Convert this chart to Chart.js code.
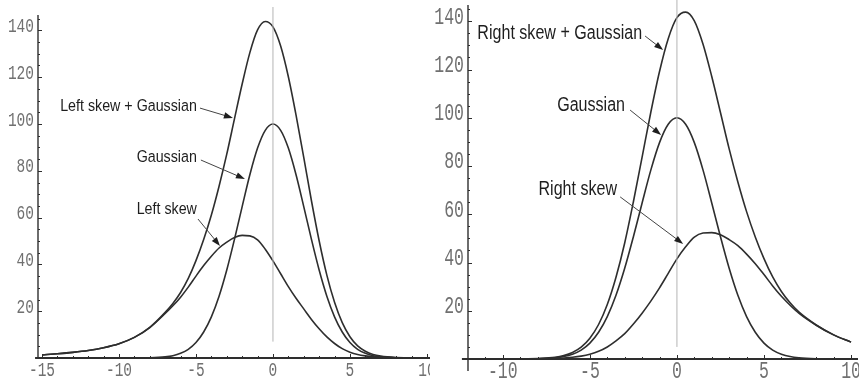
<!DOCTYPE html>
<html>
<head>
<meta charset="utf-8">
<script src="https://cdn.jsdelivr.net/npm/chart.js@4.4.1/dist/chart.umd.min.js"></script>
<style>
  body { margin: 0; width: 859px; height: 384px; overflow: hidden; background: #fff; position: relative; }
  canvas { position: absolute; top: 0; }
  #left { left: 0; z-index: 1; }
  #right { left: 430px; z-index: 2; }
</style>
</head>
<body>
<canvas id="left" width="460" height="384"></canvas>
<canvas id="right" width="460" height="384"></canvas>
<script>
// left panel: long tail to the left
const xsLeft = [-15, -14, -13, -12, -11, -10, -9, -8,
  -7, -6.5, -6, -5.5, -5, -4.5, -4, -3.5, -3, -2.5, -2, -1.5, -1, -0.5, 0,
  0.5, 1, 1.5, 2, 2.5, 3, 3.5, 4, 4.5, 5, 5.5, 6, 6.5, 7, 8, 9, 10]
const gaussLeft = [0, 0, 0, 0, 0, 0, 0, 0.1,
  0.5, 1.0, 2.0, 3.7, 6.6, 11.1, 17.6, 26.4, 37.6, 50.7, 64.7, 78.3, 89.7, 97.3, 100,
  97.3, 89.7, 78.3, 64.7, 50.7, 37.6, 26.4, 17.6, 11.1, 6.6, 3.7, 2.0, 1.0, 0.5, 0.1, 0, 0]
const skewLeft = [1.3, 1.8, 2.4, 3.2, 4.4, 6.1, 8.8, 13,
  19, 22.3, 26, 30.3, 35, 39.5, 43.5, 47, 49.5, 51.5, 52.4, 52.2, 50.5, 46.5, 41.5,
  36, 30.5, 25.5, 21, 16.5, 12.5, 9, 6.2, 4, 2.5, 1.5, 0.9, 0.5, 0.3, 0.1, 0, 0]
const sumLeft = [1.3, 1.8, 2.4, 3.2, 4.4, 6.1, 8.8, 13.1,
  19.5, 23.3, 28, 34, 41.6, 50.6, 61.1, 73.4, 87.1, 102.2, 117.1, 130.5, 140.2, 143.8, 141.5,
  133.3, 120.2, 103.8, 85.7, 67.2, 50.1, 35.4, 23.8, 15.1, 9.1, 5.2, 2.9, 1.5, 0.8, 0.2, 0, 0]

// right panel: long tail to the right
const xsRight = [-12, -11, -10, -9, -8,
  -7, -6.5, -6, -5.5, -5, -4.5, -4, -3.5, -3, -2.5, -2, -1.5, -1, -0.5, 0,
  0.5, 1, 1.5, 2, 2.5, 3, 3.5, 4, 4.5, 5, 5.5, 6, 6.5, 7, 8, 9, 10]
const gaussRight = [0, 0, 0, 0, 0.1,
  0.5, 1.0, 2.0, 3.7, 6.6, 11.1, 17.6, 26.4, 37.6, 50.7, 64.7, 78.3, 89.7, 97.3, 100,
  97.3, 89.7, 78.3, 64.7, 50.7, 37.6, 26.4, 17.6, 11.1, 6.6, 3.7, 2.0, 1.0, 0.5, 0.1, 0, 0]
const skewRight = [0, 0, 0, 0, 0.1,
  0.2, 0.4, 0.7, 1.2, 2, 3.2, 5, 7.5, 10.5, 14.5, 19, 24, 29.5, 35.5, 41.5,
  46.5, 50.5, 52.2, 52.4, 51.5, 49.5, 47, 43.5, 39.5, 35, 30.3, 26, 22.3, 19, 14, 10, 7]
const sumRight = [0, 0, 0, 0, 0.2,
  0.7, 1.4, 2.7, 4.9, 8.6, 14.3, 22.6, 33.9, 48.1, 65.2, 83.7, 102.3, 119.2, 132.8, 141.5,
  143.8, 140.2, 130.5, 117.1, 102.2, 87.1, 73.4, 61.1, 50.6, 41.6, 34, 28, 23.3, 19.5, 14.1, 10, 7]

// vertical reference line at x = 0 (y from, y to)
const zeroLineLeft = [7, 150]
const zeroLineRight = [5, 149]

const yTicks = [20, 40, 60, 80, 100, 120, 140]
const xTicksLeft = [-15, -10, -5, 0, 5, 10]
const xTicksRight = [-10, -5, 0, 5, 10]

const namesLeft = ['Left skew + Gaussian', 'Gaussian', 'Left skew']
const namesRight = ['Right skew + Gaussian', 'Gaussian', 'Right skew']

const INK = '#2e2e2e'

function pts(xs, ys) {
  return xs.map((x, i) => ({ x: x, y: ys[i] }))
}

function curve(data) {
  return {
    data: data, borderColor: INK, borderWidth: 1.6, pointRadius: 0,
    cubicInterpolationMode: 'monotone', clip: false
  }
}

function monoText(ctx, txt, x, y, size, align) {
  ctx.save()
  ctx.translate(x, y)
  ctx.scale(1, 1.45)
  ctx.font = size + 'px "Liberation Mono"'
  ctx.textAlign = align
  ctx.textBaseline = 'middle'
  ctx.fillStyle = '#707070'
  ctx.fillText(txt, 0, 0)
  ctx.restore()
}

// is a real narrow face installed? compare against the plain fallback
function hasNarrow(ctx) {
  ctx.font = '18px "Liberation Sans Narrow", monospace'
  const a = ctx.measureText('Gaussian skew').width
  ctx.font = '18px monospace'
  const b = ctx.measureText('Gaussian skew').width
  return Math.abs(a - b) > 0.5
}

function label(ctx, txt, x, y, size) {
  ctx.save()
  ctx.fillStyle = '#1e1e1e'
  ctx.textAlign = 'right'
  ctx.textBaseline = 'middle'
  if (hasNarrow(ctx)) {
    ctx.font = size + 'px "Liberation Sans Narrow"'
    ctx.fillText(txt, x, y)
  } else {
    ctx.translate(x, y)
    ctx.scale(0.82, 1)
    ctx.font = size + 'px "Liberation Sans", Arial, sans-serif'
    ctx.fillText(txt, 0, 0)
  }
  ctx.restore()
}

function arrow(ctx, x1, y1, x2, y2) {
  const a = Math.atan2(y2 - y1, x2 - x1)
  ctx.save()
  ctx.strokeStyle = '#444'
  ctx.lineWidth = 1
  ctx.beginPath()
  ctx.moveTo(x1, y1)
  ctx.lineTo(x2 - 6 * Math.cos(a), y2 - 6 * Math.sin(a))
  ctx.stroke()
  ctx.fillStyle = '#1e1e1e'
  ctx.beginPath()
  ctx.moveTo(x2, y2)
  ctx.lineTo(x2 - 9 * Math.cos(a) + 3.2 * Math.sin(a), y2 - 9 * Math.sin(a) - 3.2 * Math.cos(a))
  ctx.lineTo(x2 - 9 * Math.cos(a) - 3.2 * Math.sin(a), y2 - 9 * Math.sin(a) + 3.2 * Math.cos(a))
  ctx.closePath()
  ctx.fill()
  ctx.restore()
}

// white background, Mathematica-style axes with inward ticks, and the arrow labels
const framePlugin = {
  id: 'frame',
  beforeDraw(chart) {
    const ctx = chart.ctx
    ctx.save()
    ctx.fillStyle = '#fff'
    ctx.fillRect(0, 0, chart.width, chart.height)
    ctx.restore()
  },
  beforeDatasetsDraw(chart) {
    const o = chart.options.plugins.frame
    const ctx = chart.ctx
    const xs = chart.scales.x, ys = chart.scales.y
    const x0 = xs.getPixelForValue(o.yAxisAt), y0 = ys.getPixelForValue(0)
    ctx.save()
    ctx.strokeStyle = INK
    ctx.lineWidth = 2
    ctx.beginPath()
    ctx.moveTo(xs.getPixelForValue(o.xAxisFrom), y0)
    ctx.lineTo(xs.getPixelForValue(o.xAxisTo), y0)
    ctx.stroke()
    ctx.lineWidth = 1.4
    ctx.beginPath()
    ctx.moveTo(x0, ys.getPixelForValue(o.yAxisFrom))
    ctx.lineTo(x0, ys.getPixelForValue(o.yAxisTo))
    ctx.stroke()
    ctx.lineWidth = 1
    ctx.beginPath()
    for (let v = 5; v < o.yAxisTo; v += 5) {
      const py = Math.round(ys.getPixelForValue(v)) + 0.5
      ctx.moveTo(x0, py)
      ctx.lineTo(x0 + (v % 20 === 0 ? 4 : 2), py)
    }
    for (let v = Math.ceil(o.xAxisFrom); v <= o.xAxisTo; v++) {
      if (v === o.yAxisAt) continue
      const px = Math.round(xs.getPixelForValue(v)) + 0.5
      ctx.moveTo(px, y0)
      ctx.lineTo(px, y0 - (v % 5 === 0 ? 4 : 2))
    }
    ctx.stroke()
    ctx.restore()

    yTicks.forEach(v => monoText(ctx, String(v), x0 - 4, ys.getPixelForValue(v) - 4, o.tickSize, 'right'))
    o.xTicks.forEach(v => monoText(ctx, String(v), xs.getPixelForValue(v), y0 + o.tickGap, o.tickSize, 'center'))
  },
  afterDatasetsDraw(chart) {
    const o = chart.options.plugins.frame
    const ctx = chart.ctx
    const xs = chart.scales.x, ys = chart.scales.y
    o.notes.forEach((n, i) => {
      const px = v => xs.getPixelForValue(v), py = v => ys.getPixelForValue(v)
      label(ctx, o.names[i], px(n.text[0]), py(n.text[1]), o.fontSize)
      arrow(ctx, px(n.from[0]), py(n.from[1]), px(n.to[0]), py(n.to[1]))
    })
  }
}

function panel(id, xs, gauss, skew, sum, zero, cfg) {
  new Chart(document.getElementById(id), {
    type: 'line',
    data: {
      datasets: [
        { data: [{ x: 0, y: zero[0] }, { x: 0, y: zero[1] }], borderColor: '#b4b4b4', borderWidth: 1, pointRadius: 0, clip: false },
        curve(pts(xs, gauss)),
        curve(pts(xs, skew)),
        curve(pts(xs, sum))
      ]
    },
    options: {
      responsive: false,
      animation: false,
      layout: { padding: cfg.padding },
      scales: {
        x: { type: 'linear', min: cfg.xMin, max: cfg.xMax, display: false },
        y: { type: 'linear', min: 0, max: cfg.yMax, display: false }
      },
      plugins: {
        legend: { display: false },
        tooltip: { enabled: false },
        frame: cfg.frame
      }
    },
    plugins: [framePlugin]
  })
}

panel('left', xsLeft, gaussLeft, skewLeft, sumLeft, zeroLineLeft, {
  padding: { left: 38, right: 30, top: 7, bottom: 26 },
  xMin: -15.26, xMax: 10.2, yMax: 150,
  frame: {
    yAxisAt: -15.26, yAxisFrom: 0, yAxisTo: 146.6,
    xAxisFrom: -15.45, xAxisTo: 10.2,
    xTicks: xTicksLeft, tickSize: 14.5, tickGap: 12, fontSize: 17.4,
    names: namesLeft,
    notes: [
      { text: [-4.94, 107.7], from: [-4.74, 106.8], to: [-2.6, 102.6] },
      { text: [-4.94, 85.9], from: [-4.68, 84.6], to: [-1.82, 76.5] },
      { text: [-4.94, 63.7], from: [-4.87, 59.4], to: [-3.44, 47.9] }
    ]
  }
})

panel('right', xsRight, gaussRight, skewRight, sumRight, zeroLineRight, {
  padding: { left: 38, right: 32, top: 2, bottom: 25 },
  xMin: -12, xMax: 10.4, yMax: 148,
  frame: {
    yAxisAt: -12, yAxisFrom: -5, yAxisTo: 146.8,
    xAxisFrom: -12.35, xAxisTo: 10.4,
    xTicks: xTicksRight, tickSize: 16.5, tickGap: 13, fontSize: 19.6,
    names: namesRight,
    notes: [
      { text: [-2.0, 134.7], from: [-1.83, 133.9], to: [-0.79, 128.1] },
      { text: [-2.98, 104.9], from: [-2.69, 103.2], to: [-0.91, 92.9] },
      { text: [-3.44, 70.1], from: [-3.26, 67.2], to: [0.36, 47.7] }
    ]
  }
})
</script>
</body>
</html>
